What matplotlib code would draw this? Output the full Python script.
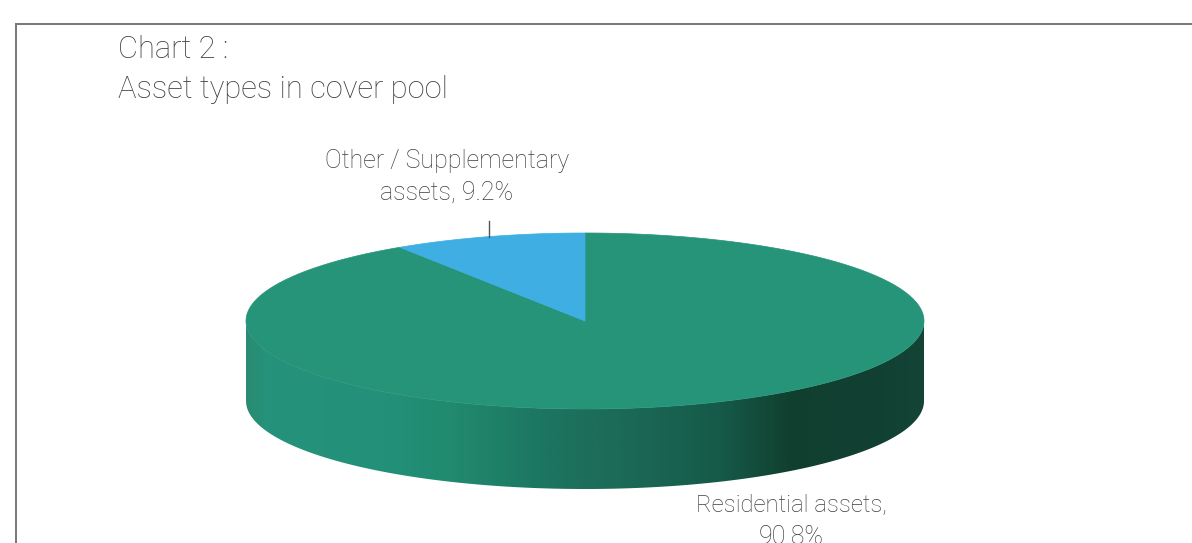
import numpy as np
import matplotlib
matplotlib.use("Agg")
import matplotlib.pyplot as plt
from matplotlib.patches import Polygon
from matplotlib.colors import LinearSegmentedColormap

categories = ["Residential assets", "Other / Supplementary assets"]
shares = [90.8, 9.2]
chart_title = ["Chart 2 :", "Asset types in cover pool"]
label_lines = [["Residential assets,", "90.8%"], ["Other / Supplementary", "assets, 9.2%"]]

GREEN = "#259478"
BLUE = "#3eaee3"
TEXT = "#3f3f3f"
W, H = 1192, 543
CX, CY, RX, RY, DEPTH = 585, 321, 339, 88, 80

plt.rcParams["font.family"] = ["Roboto", "DejaVu Sans"]
fig = plt.figure(figsize=(W / 100, H / 100), dpi=100, facecolor="white")
ax = fig.add_axes([0, 0, 1, 1])
ax.set_xlim(0, W)
ax.set_ylim(H, 0)
ax.axis("off")

def rim(a0, a1, n=200):
    # angles clockwise from 12 o'clock, in degrees
    t = np.radians(np.linspace(a0, a1, n))
    return np.column_stack([CX + RX * np.sin(t), CY - RY * np.cos(t)])

# frame, open at the bottom and the right
ax.plot([16, 16], [H, 24], color="#777777", lw=1.4, solid_capstyle="projecting")
ax.plot([16, W], [24, 24], color="#777777", lw=1.4, solid_capstyle="projecting")

# side wall with horizontal gradient
front = rim(90, 270)
side = np.vstack([front, (front + [0, DEPTH])[::-1]])
cmap = LinearSegmentedColormap.from_list("side", [
    (0.00, "#2b8a73"), (0.03, "#25937a"), (0.20, "#23917a"), (0.30, "#218a6f"),
    (0.45, "#1c7460"), (0.55, "#1c6a58"), (0.70, "#165a49"), (0.80, "#11402f"),
    (0.90, "#113f32"), (1.00, "#134436")])
im = ax.imshow(np.linspace(0, 1, 512)[None, :], cmap=cmap, aspect="auto",
               extent=[CX - RX, CX + RX, CY + RY + DEPTH, CY], zorder=1)
im.set_clip_path(Polygon(side, closed=True, transform=ax.transData))
ax.set_xlim(0, W)
ax.set_ylim(H, 0)

# top face: wedges run from 12 o'clock by share
sweep = 360 * shares[0] / sum(shares)
ax.add_patch(Polygon(np.vstack([[CX, CY], rim(0, sweep, 400)]), closed=True,
                     fc=GREEN, ec=GREEN, lw=0.5, zorder=2))
ax.add_patch(Polygon(np.vstack([[CX, CY], rim(sweep, 360, 100)]), closed=True,
                     fc=BLUE, ec=BLUE, lw=0.5, zorder=3))

# leader line
ax.plot([489, 489], [221, 237], color="#555555", lw=1.0, zorder=4)

# texts
kw = dict(color=TEXT, fontweight="light", va="center")
ax.text(118, 49.5, chart_title[0], fontsize=22.2, ha="left", **kw)
ax.text(118, 89.5, chart_title[1], fontsize=22.2, ha="left", **kw)
ax.text(447.5, 161, label_lines[1][0], fontsize=18, ha="center", **kw)
ax.text(447, 193, label_lines[1][1], fontsize=18, ha="center", **kw)
ax.text(791.5, 505, label_lines[0][0], fontsize=17.2, ha="center", **kw)
ax.text(791, 537, label_lines[0][1], fontsize=18, ha="center", **kw)

fig.savefig("out.png", dpi=100, facecolor="white")
